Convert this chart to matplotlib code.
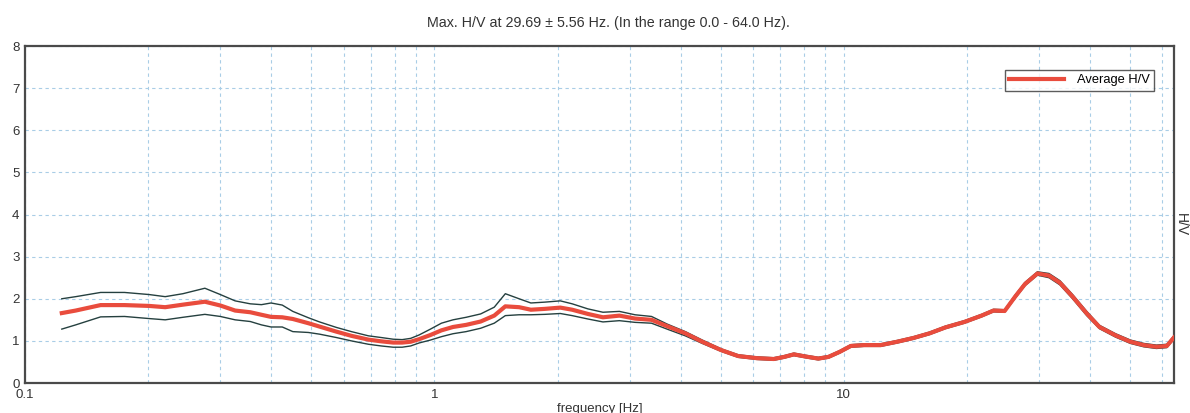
import matplotlib.pyplot as plt
import numpy as np
from matplotlib.ticker import FixedLocator, NullFormatter

plt.rcParams['font.family'] = ['Liberation Sans', 'DejaVu Sans']

# H/V curve
freq = [0.123, 0.133, 0.153, 0.175, 0.201, 0.22, 0.243, 0.275, 0.30, 0.326,
        0.355, 0.378, 0.399, 0.425, 0.451, 0.492, 0.524, 0.576, 0.627, 0.69,
        0.741, 0.793, 0.834, 0.875, 0.917, 0.978, 1.04, 1.11, 1.195, 1.297,
        1.40, 1.49, 1.61, 1.72, 1.86, 2.03, 2.17, 2.37, 2.58, 2.83, 3.09,
        3.39, 3.70, 4.10, 4.51, 5.02, 5.52, 6.13, 6.74, 7.15, 7.55, 8.05,
        8.66, 9.17, 9.77, 10.4, 11.2, 12.3, 13.5, 14.8, 16.2, 17.7, 19.7,
        21.7, 23.2, 24.7, 26.2, 27.7, 29.7, 31.7, 33.7, 36.2, 39.2, 42.1,
        46.1, 50.1, 54.0, 58.0, 61.5, 64.0]
hv_avg = [1.66, 1.72, 1.85, 1.85, 1.83, 1.80, 1.86, 1.93, 1.84, 1.72,
          1.68, 1.62, 1.57, 1.56, 1.52, 1.42, 1.34, 1.22, 1.12, 1.03, 0.99,
          0.96, 0.96, 0.98, 1.04, 1.14, 1.25, 1.33, 1.38, 1.46, 1.60, 1.82,
          1.80, 1.74, 1.76, 1.79, 1.74, 1.64, 1.56, 1.60, 1.53, 1.50, 1.35,
          1.18, 0.98, 0.78, 0.64, 0.59, 0.57, 0.62, 0.68, 0.63, 0.58, 0.62,
          0.74, 0.88, 0.90, 0.90, 0.98, 1.07, 1.18, 1.32, 1.45, 1.60, 1.72,
          1.71, 2.05, 2.35, 2.60, 2.55, 2.38, 2.05, 1.65, 1.33, 1.13, 0.98,
          0.90, 0.86, 0.88, 1.08]
hv_up = [2.00, 2.05, 2.15, 2.15, 2.10, 2.05, 2.12, 2.25, 2.10, 1.95,
         1.88, 1.86, 1.90, 1.85, 1.70, 1.55, 1.45, 1.32, 1.22, 1.12, 1.08,
         1.04, 1.03, 1.06, 1.14, 1.28, 1.42, 1.50, 1.56, 1.64, 1.80, 2.12,
         2.00, 1.90, 1.92, 1.95, 1.88, 1.76, 1.68, 1.70, 1.62, 1.58, 1.40,
         1.22, 1.02, 0.81, 0.67, 0.62, 0.60, 0.65, 0.71, 0.66, 0.61, 0.65,
         0.77, 0.91, 0.93, 0.93, 1.01, 1.10, 1.21, 1.35, 1.48, 1.63, 1.75,
         1.74, 2.09, 2.39, 2.64, 2.60, 2.43, 2.10, 1.70, 1.37, 1.17, 1.02,
         0.94, 0.90, 0.92, 1.12]
hv_low = [1.28, 1.38, 1.57, 1.58, 1.53, 1.50, 1.56, 1.63, 1.58, 1.50,
          1.46, 1.38, 1.33, 1.33, 1.22, 1.20, 1.16, 1.08, 1.00, 0.92, 0.88,
          0.85, 0.85, 0.88, 0.95, 1.02, 1.10, 1.17, 1.22, 1.30, 1.42, 1.60,
          1.62, 1.62, 1.63, 1.65, 1.60, 1.52, 1.45, 1.48, 1.44, 1.42, 1.28,
          1.12, 0.94, 0.75, 0.61, 0.56, 0.54, 0.59, 0.65, 0.60, 0.55, 0.59,
          0.71, 0.85, 0.87, 0.87, 0.95, 1.04, 1.15, 1.29, 1.42, 1.57, 1.69,
          1.68, 2.01, 2.31, 2.56, 2.50, 2.33, 2.00, 1.60, 1.29, 1.09, 0.94,
          0.86, 0.82, 0.84, 1.04]

x_major = [0.1, 1, 10]
x_minor = [m * d for d in (0.1, 1, 10) for m in range(2, 10) if m * d <= 64]
y_ticks = list(range(0, 9))

title = 'Max. H/V at 29.69 \u00b1 5.56 Hz. (In the range 0.0 - 64.0 Hz).'

fig = plt.figure(figsize=(11.9, 4.13), dpi=100)
ax = fig.add_axes([0.021, 0.0726, 0.9655, 0.816])

grid_kw = dict(color='#a9cde6', lw=0.8, ls=(0, (3, 3)))
ax.plot(freq, hv_up, color='#25403f', lw=1.0, zorder=3)
ax.plot(freq, hv_low, color='#25403f', lw=1.0, zorder=3)
ax.plot(freq, hv_avg, color='#e94c3d', lw=3.0, zorder=4, label='Average H/V')

ax.set_xscale('log')
ax.set_xlim(0.1, 64)
ax.set_ylim(0, 8)
ax.xaxis.set_major_locator(FixedLocator(x_major))
ax.xaxis.set_minor_locator(FixedLocator(x_minor))
ax.xaxis.set_minor_formatter(NullFormatter())
ax.set_xticklabels(['0.1', '1', '10'])
ax.set_yticks(y_ticks)
ax.tick_params(which='both', length=0, labelsize=9.5, colors='#333333')
ax.tick_params(axis='x', pad=4.5)
ax.tick_params(axis='y', pad=4)
ax.grid(True, which='both', axis='x', **grid_kw)
ax.grid(True, which='major', axis='y', **grid_kw)
ax.set_axisbelow(True)

for s in ax.spines.values():
    s.set_color('#4a4a4a')
    s.set_linewidth(1.6)

ax.set_xlabel('frequency [Hz]', fontsize=9.5, color='#333333', labelpad=0)
ax.xaxis.set_label_coords(0.50, -0.058)
ax.yaxis.set_label_position('right')
ax.set_ylabel('H/V', fontsize=10, color='#333333', rotation=-90, labelpad=8)
ax.yaxis.set_label_coords(1.012, 0.47)
ax.set_title(title, fontsize=10.3, color='#333333', pad=14, x=0.508)

leg = ax.legend(loc='upper right', bbox_to_anchor=(0.9826, 0.929), fontsize=9.3,
                frameon=True, fancybox=False, handlelength=4.2, borderpad=0.35,
                handletextpad=1.0, borderaxespad=0)
leg.get_frame().set_edgecolor('#333333')
leg.get_frame().set_linewidth(1.0)

fig.savefig('out.png', dpi=100)
